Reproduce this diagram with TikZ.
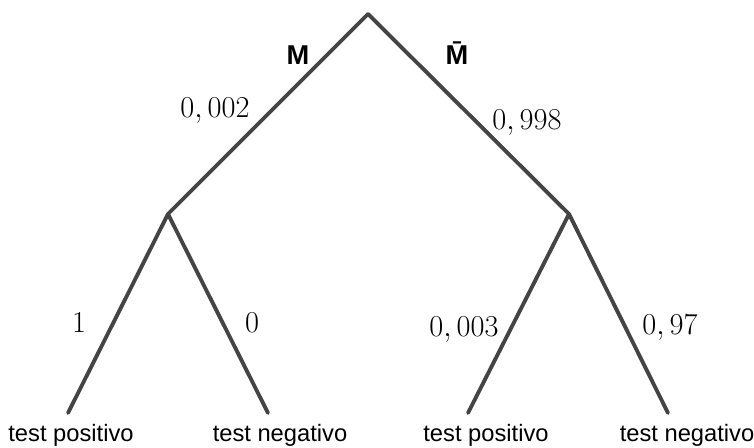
\documentclass[tikz,border=0pt]{standalone}
\usepackage{fontspec}
\setsansfont{Liberation Sans}
\usepackage{amsmath}
\usetikzlibrary{positioning}
\definecolor{branchgray}{RGB}{68,68,68}
\begin{document}
\begin{tikzpicture}[x=0.02cm,y=-0.02cm]
\tikzstyle{branch}=[draw=branchgray, line width=2.2pt, line cap=round]
\tikzstyle{prob}=[font=\fontsize{17.28}{20}\selectfont, anchor=base, inner sep=0pt]
\tikzstyle{event}=[font=\sffamily\bfseries\fontsize{15.5}{18}\selectfont, anchor=base, inner sep=0pt]
\tikzstyle{leaf}=[font=\sffamily\fontsize{13.5}{16}\selectfont, anchor=base, inner sep=0pt]
\useasboundingbox (0,0) rectangle (754,448);
% tree points
\coordinate (root) at (368,14);
\coordinate (m) at (168,214);
\coordinate (nm) at (569,214);
\coordinate (mpos) at (68,413);
\coordinate (mneg) at (268,413);
\coordinate (nmpos) at (468,413);
\coordinate (nmneg) at (668,413);
\draw[branch] (root)--(m); \draw[branch] (root)--(nm);
\draw[branch] (m)--(mpos); \draw[branch] (m)--(mneg);
\draw[branch] (nm)--(nmpos); \draw[branch] (nm)--(nmneg);
% labels
\node[event] (lm) at (298,65) {M};
\node[event] (lnm) at (457,65) {\=M};
\node[prob] (p1) at (215,118) {$0,002$};
\node[prob] (p2) at (527,130) {$0,998$};
\node[prob] (p3) at (79,333) {$1$};
\node[prob] (p4) at (252,333) {$0$};
\node[prob] (p5) at (464,337) {$0,003$};
\node[prob] (p6) at (670,335) {$0,97$};
\node[leaf] (t1) at (71,442) {test positivo};
\node[leaf] (t2) at (280,442) {test negativo};
\node[leaf] (t3) at (486,442) {test positivo};
\node[leaf] (t4) at (687,442) {test negativo};
\end{tikzpicture}
\end{document}
